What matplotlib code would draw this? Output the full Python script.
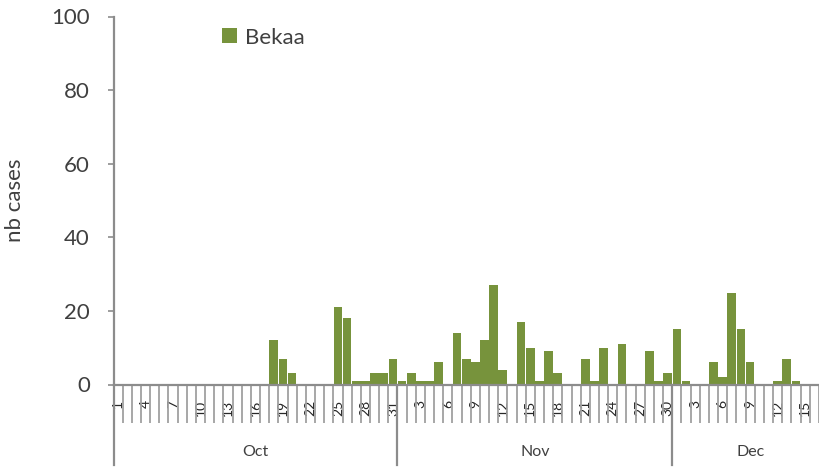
import numpy as np
import matplotlib
matplotlib.use('Agg')
from matplotlib import pyplot as plt
from matplotlib import transforms

plt.rcParams['font.family'] = ['Lato', 'DejaVu Sans']

# daily cases, Bekaa
months = ['Oct', 'Nov', 'Dec']
oct_cases = [0, 0, 0, 0, 0, 0, 0, 0, 0, 0, 0, 0, 0, 0, 0, 0, 0,
             12, 7, 3, 0, 0, 0, 0, 21, 18, 1, 1, 3, 3, 7]
nov_cases = [1, 3, 1, 1, 6, 0, 14, 7, 6, 12, 27, 4, 0, 17, 10,
             1, 9, 3, 0, 0, 7, 1, 10, 0, 11, 0, 0, 9, 1, 3]
dec_cases = [15, 1, 0, 0, 6, 2, 25, 15, 6, 0, 0, 1, 7, 1, 0, 0, 0]

month_data = [oct_cases, nov_cases, dec_cases]
cases = oct_cases + nov_cases + dec_cases
day_labels = []
for m in month_data:
    day_labels += [str(d) for d in range(1, len(m) + 1)]
n = len(cases)
x = np.arange(n)

green = '#77933C'
axis_col = '#8c8c8c'
tick_col = '#a0a0a0'
txt_col = '#404040'

fig = plt.figure(figsize=(8.19, 4.75), dpi=100)
ax = fig.add_axes([113.5 / 819, 90.5 / 475, 714.5 / 819, 368 / 475])

ax.bar(x, cases, width=0.95, color=green, label='Bekaa', zorder=2)

ax.set_xlim(-0.5, n - 0.5)
ax.set_ylim(0, 100)
ax.set_yticks(range(0, 101, 20))
ax.tick_params(axis='y', direction='out', length=4, width=1.2, color=axis_col,
               pad=13, labelsize=16, labelcolor=txt_col)

# day labels every 3rd category, tick marks between every category
ax.set_xticks(x[::3])
ax.set_xticklabels(day_labels[::3], rotation=90)
ax.tick_params(axis='x', which='major', length=0, pad=11, labelsize=10,
               labelcolor='#262626')
ax.set_xticks(np.arange(-0.5, n, 1), minor=True)
ax.tick_params(axis='x', which='minor', direction='out', length=27,
               width=1.3, color=tick_col)

for s in ['top', 'right']:
    ax.spines[s].set_visible(False)
for s in ['left', 'bottom']:
    ax.spines[s].set_color(axis_col)
    ax.spines[s].set_linewidth(1.6)

# month grouping
trans = transforms.blended_transform_factory(ax.transData, ax.transAxes)
start = 0
edges = [-0.5]
for name, m in zip(months, month_data):
    mid = start + (len(m) - 1) / 2
    ax.text(mid, -0.183, name, transform=trans, ha='center', va='center',
            fontsize=11.5, color=txt_col)
    start += len(m)
    edges.append(start - 0.5)
for e in edges[:-1]:
    ax.plot([e, e], [0, -0.219], transform=trans, color=axis_col, lw=1.6,
            clip_on=False)

ax.set_ylabel('nb cases', fontsize=16, color=txt_col)
ax.yaxis.set_label_coords(-0.124, 0.5)

ax.legend(loc='upper left', bbox_to_anchor=(0.124, 1.024), frameon=False,
          fontsize=16, handlelength=0.65, handleheight=0.65,
          handletextpad=0.4, labelcolor=txt_col)

fig.savefig('out.png', dpi=100)
